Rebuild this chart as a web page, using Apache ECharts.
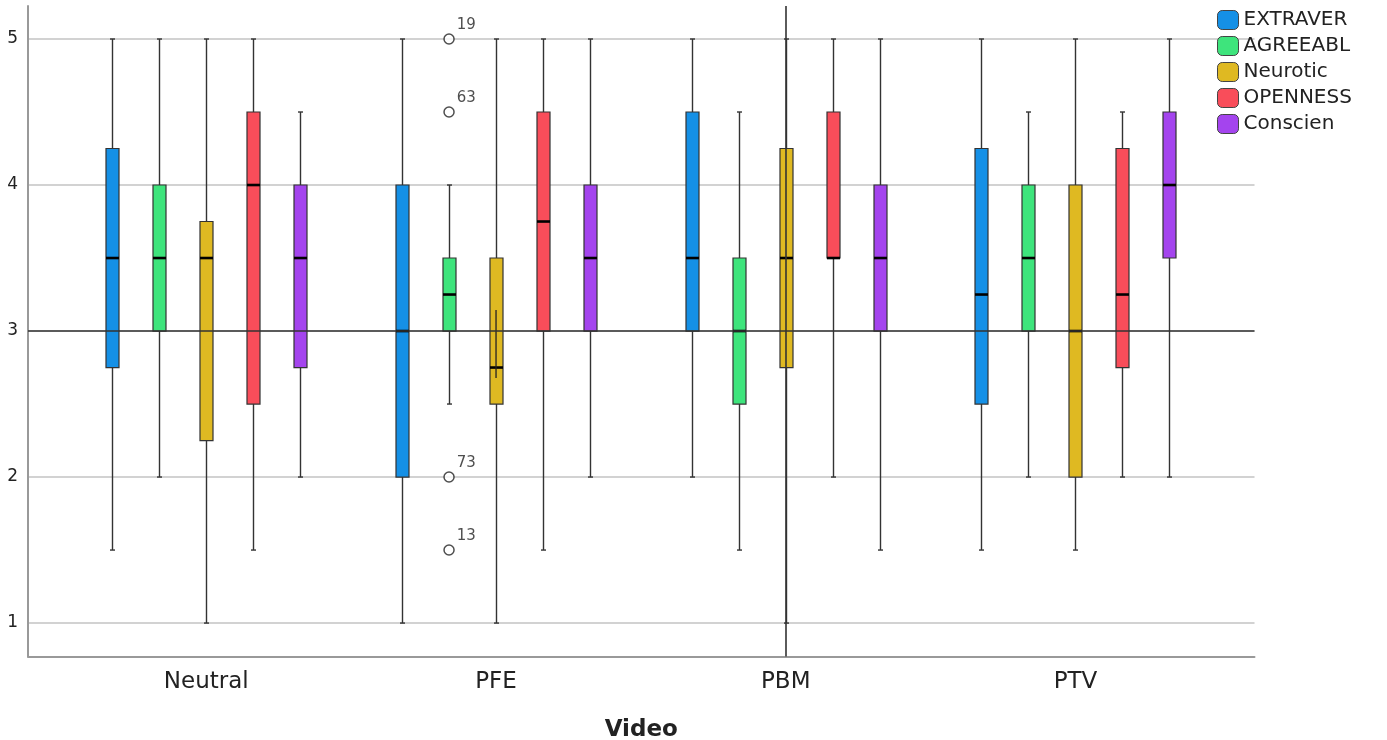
<!DOCTYPE html>
<html>
<head>
<meta charset="utf-8">
<script src="https://cdn.jsdelivr.net/npm/echarts@6/dist/echarts.min.js"></script>
<style>
  html, body { margin: 0; padding: 0; background: #fff; }
  #chart { width: 1387px; height: 740px; }
</style>
</head>
<body>
<div id="chart"></div>
<script>
// categories on the x axis
var videos = ['Neutral', 'PFE', 'PBM', 'PTV'];
var traits = ['EXTRAVER', 'AGREEABL', 'Neurotic', 'OPENNESS', 'Conscien'];
var yTicks = [1, 2, 3, 4, 5];

// [min, Q1, median, Q3, max] per video
var extraver = [[1.5, 2.75, 3.5, 4.25, 5], [1, 2, 3, 4, 5], [2, 3, 3.5, 4.5, 5], [1.5, 2.5, 3.25, 4.25, 5]];
var agreeabl = [[2, 3, 3.5, 4, 5], [2.5, 3, 3.25, 3.5, 4], [1.5, 2.5, 3, 3.5, 4.5], [2, 3, 3.5, 4, 4.5]];
var neurotic = [[1, 2.25, 3.5, 3.75, 5], [1, 2.5, 2.75, 3.5, 5], [1, 2.75, 3.5, 4.25, 5], [1.5, 2, 3, 4, 5]];
var openness = [[1.5, 2.5, 4, 4.5, 5], [1.5, 3, 3.75, 4.5, 5], [2, 3.5, 3.5, 4.5, 5], [2, 2.75, 3.25, 4.25, 4.5]];
var conscien = [[2, 2.75, 3.5, 4, 4.5], [2, 3, 3.5, 4, 5], [1.5, 3, 3.5, 4, 5], [2, 3.5, 4, 4.5, 5]];

// outliers of AGREEABL in PFE: [video index, value, case]
var outliers = [[1, 5, '19'], [1, 4.5, '63'], [1, 2, '73'], [1, 1.5, '13']];
// stray vertical mark inside Neurotic / PFE box
var neuroticMark = [[1, 3.144], [1, 2.678]];

var colors = ['#1590e6', '#3ee47c', '#dfb922', '#f94d5a', '#a444ee'];
var offsets = [-94, -47, 0, 47, 94];
var BOX_W = 13, CAP_W = 5;
var FONT = 'DejaVu Sans';

var chart = echarts.init(document.getElementById('chart'));

function boxRenderer(offset) {
  return function (params, api) {
    var x = api.value(0);
    var lo = api.coord([x, api.value(1)]);
    var q1 = api.coord([x, api.value(2)]);
    var md = api.coord([x, api.value(3)]);
    var q3 = api.coord([x, api.value(4)]);
    var hi = api.coord([x, api.value(5)]);
    var cx = Math.round(lo[0] + offset) + 0.5;
    var color = api.visual('color');
    var wStyle = { stroke: '#333', lineWidth: 1.4 };
    return {
      type: 'group',
      children: [
        { type: 'line', shape: { x1: cx, y1: hi[1], x2: cx, y2: lo[1] }, style: wStyle },
        { type: 'line', shape: { x1: cx - CAP_W / 2, y1: hi[1], x2: cx + CAP_W / 2, y2: hi[1] }, style: wStyle },
        { type: 'line', shape: { x1: cx - CAP_W / 2, y1: lo[1], x2: cx + CAP_W / 2, y2: lo[1] }, style: wStyle },
        { type: 'rect', shape: { x: cx - BOX_W / 2, y: q3[1], width: BOX_W, height: q1[1] - q3[1] },
          style: { fill: color, stroke: '#333', lineWidth: 1.2 } },
        { type: 'line', shape: { x1: cx - BOX_W / 2, y1: md[1], x2: cx + BOX_W / 2, y2: md[1] },
          style: { stroke: '#000', lineWidth: 2.6 } }
      ]
    };
  };
}

var allStats = [extraver, agreeabl, neurotic, openness, conscien];
var series = traits.map(function (name, i) {
  return {
    name: name,
    type: 'custom',
    renderItem: boxRenderer(offsets[i]),
    itemStyle: { color: colors[i] },
    encode: { x: 0, y: [1, 2, 3, 4, 5] },
    data: allStats[i].map(function (s, k) { return [k].concat(s); }),
    z: 3
  };
});

series.push({
  type: 'line',
  data: neuroticMark,
  symbol: 'none',
  lineStyle: { color: '#222', width: 1.3 },
  z: 4,
  silent: true
});

series.push({
  type: 'scatter',
  data: outliers,
  symbol: 'circle',
  symbolSize: 10,
  symbolOffset: [offsets[1], 0],
  itemStyle: { color: '#fff', borderColor: '#222', borderWidth: 1.5 },
  label: {
    show: true,
    position: 'right',
    distance: 2,
    offset: [0, -14],
    formatter: function (p) { return p.value[2]; },
    fontFamily: FONT,
    fontSize: 15,
    color: '#222'
  },
  z: 5
});

// reference lines: y = 3 and the PBM column
series.push({
  type: 'line',
  data: [],
  markLine: {
    silent: true,
    symbol: 'none',
    label: { show: false },
    lineStyle: { color: '#333', width: 1.6, type: 'solid' },
    data: [{ yAxis: 3 }, { xAxis: 2 }]
  },
  z: 6
});

var option = {
  backgroundColor: '#fff',
  animation: false,
  grid: { left: 28, right: 132.5, top: 6, bottom: 83.5, outerBoundsMode: 'none', containLabel: false },
  legend: {
    orient: 'vertical',
    left: 1217,
    top: 10,
    padding: 0,
    itemWidth: 21,
    itemHeight: 19,
    itemGap: 6,
    icon: 'roundRect',
    textStyle: { fontFamily: FONT, fontSize: 20, color: '#222' },
    data: traits.map(function (t, i) {
      return { name: t, itemStyle: { color: colors[i], borderColor: '#444', borderWidth: 1 } };
    })
  },
  xAxis: {
    type: 'value',
    min: -0.6155,
    max: 3.618,
    name: 'Video',
    nameLocation: 'middle',
    nameGap: 62,
    nameTextStyle: { fontFamily: FONT, fontSize: 23, fontWeight: 'bold', color: '#222' },
    axisLine: { show: true, onZero: false, lineStyle: { color: '#999', width: 2 } },
    axisTick: { show: false },
    splitLine: { show: false },
    axisLabel: {
      customValues: [0, 1, 2, 3],
      formatter: function (v) { return videos[Math.round(v)]; },
      margin: 14,
      fontFamily: FONT,
      fontSize: 23,
      color: '#222'
    }
  },
  yAxis: {
    type: 'value',
    min: 0.771,
    max: 5.226,
    axisLine: { show: true, onZero: false, lineStyle: { color: '#999', width: 2 } },
    axisTick: { show: false },
    axisLabel: {
      showMinLabel: false,
      showMaxLabel: false,
      margin: 10,
      fontFamily: FONT,
      fontSize: 17,
      color: '#222',
      formatter: function (v) { return yTicks.indexOf(v) >= 0 ? String(v) : ''; }
    },
    splitLine: { show: true, showMinLine: false, showMaxLine: false, lineStyle: { color: '#d2d2d2', width: 2 } }
  },
  series: series
};

chart.setOption(option);
</script>
</body>
</html>
